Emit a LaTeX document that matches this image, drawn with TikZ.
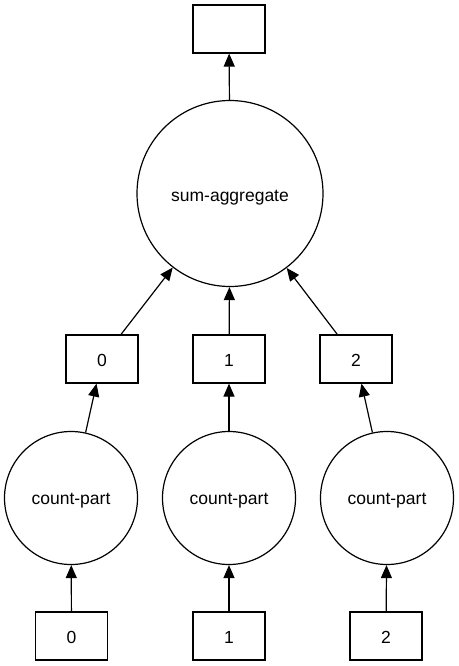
\documentclass[tikz,border=0pt]{standalone}
\usepackage{fontspec}
\setmainfont{Liberation Sans}
\usetikzlibrary{arrows.meta}
\newcommand{\lowtext}[2]{\raisebox{-#1pt}[\height][\depth]{#2}}
\begin{document}
\begin{tikzpicture}[x=1pt,y=-1pt,
  every node/.style={font=\fontsize{17.5}{20}\selectfont},
  databox/.style={draw,line width=1.2pt,minimum width=72pt,minimum height=48pt,inner sep=0pt},
  bigtask/.style={draw,circle,line width=1.2pt,minimum size=186pt,inner sep=0pt},
  task/.style={draw,circle,line width=1.2pt,minimum size=133pt,inner sep=0pt},
  edge/.style={line width=1.2pt,-{Triangle[length=13pt,width=11pt]}}]
\useasboundingbox (0,0) rectangle (458,666);
\node[databox] (top) at (229,29) {};
\node[bigtask] (sum) at (230,193.5) {\lowtext{4}{sum-aggregate}};
\node[databox] (m0) at (102,359) {\lowtext{1.5}{0}};
\node[databox] (m1) at (229,359) {\lowtext{1.5}{1}};
\node[databox] (m2) at (356,359) {\lowtext{1.5}{2}};
\node[task] (c0) at (71,498) {\lowtext{3}{count-part}};
\node[task] (c1) at (229,498) {\lowtext{3}{count-part}};
\node[task] (c2) at (387,498) {\lowtext{3}{count-part}};
\node[databox] (b0) at (71.5,636) {\lowtext{1.5}{0}};
\node[databox] (b1) at (229,636) {\lowtext{1.5}{1}};
\node[databox] (b2) at (386,636) {\lowtext{1.5}{2}};
\draw[edge] (sum) -- (top);
\draw[edge] (m0) -- (sum);
\draw[edge] (m1) -- (sum);
\draw[edge] (m2) -- (sum);
\draw[edge] (c0) -- (m0);
\draw[edge] (c1) -- (m1);
\draw[edge] (c2) -- (m2);
\draw[edge] (b0) -- (c0);
\draw[edge] (b1) -- (c1);
\draw[edge] (b2) -- (c2);
\end{tikzpicture}
\end{document}
